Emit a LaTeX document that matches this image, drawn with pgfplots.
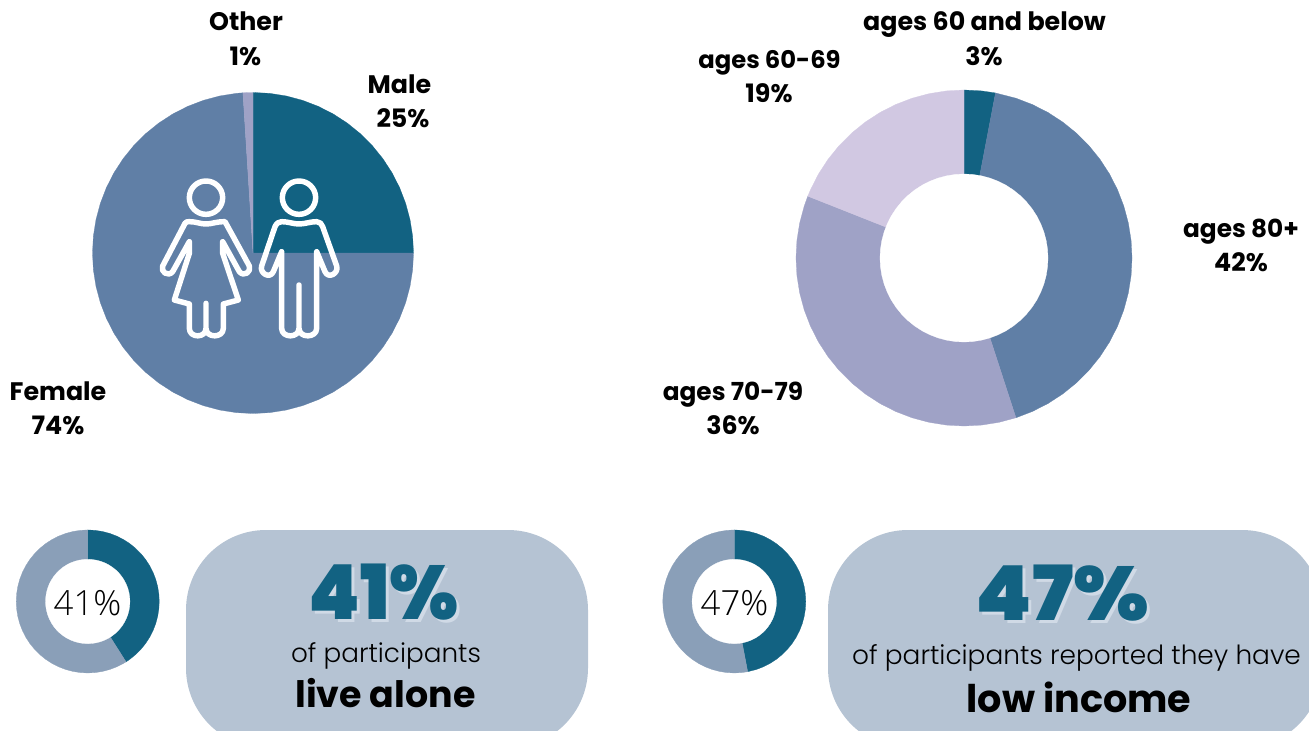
\documentclass[border=0pt]{standalone}
\usepackage{fontspec}
\usepackage{pgfplots}
\pgfplotsset{compat=1.18}
\setmainfont{Poppins}[UprightFont=*-Regular,BoldFont=*-Bold]
\newfontfamily\plight{Poppins}[UprightFont=*-Light]
\newfontfamily\pblack{Poppins}[UprightFont=*-Black]
\newfontfamily\oslight{Open Sans}[UprightFont=*-Light]
\definecolor{cdark}{HTML}{126282}
\definecolor{cmid}{HTML}{607FA6}
\definecolor{clav}{HTML}{9FA2C6}
\definecolor{clite}{HTML}{D1C8E2}
\definecolor{cgrey}{HTML}{8A9FB8}
\definecolor{cbox}{HTML}{B5C3D3}
\definecolor{cshadow}{HTML}{D0DAE6}
\pgfplotsset{pieax/.style={hide axis,scale only axis,anchor=center,clip=false,
  xmin=-1,xmax=1,ymin=-1,ymax=1,width=#1,height=#1,
  every axis plot/.append style={data cs=polar,mark=none,line width=0.2pt}}}
\newcommand{\T}[4]{\node[inner sep=0pt,anchor=base,align=center] at (#1*0.75pt,-#2*0.75pt) {\fontsize{#3}{#3}\selectfont #4};}
\begin{document}
\begin{tikzpicture}
\path[use as bounding box] (0,0) rectangle (981.75pt,-548.25pt);
\clip (0,0) rectangle (981.75pt,-548.25pt);
\fill[cbox,rounded corners=60pt] (139.5pt,-397.5pt) rectangle (441pt,-561pt);
\fill[cbox,rounded corners=60pt] (621pt,-397.5pt) rectangle (991.5pt,-561pt);

% gender pie: Male 25, Female 74, Other 1
\begin{axis}[pieax=240.75pt,at={(189.75pt,-189.75pt)}]
\addplot[fill=cdark,draw=cdark] coordinates {(0,0)(90,1)(84,1)(78,1)(72,1)(66,1)(60,1)(54,1)(48,1)(42,1)(36,1)(30,1)(24,1)(18,1)(12,1)(6,1)(0,1)} --cycle;
\addplot[fill=cmid,draw=cmid] coordinates {(0,0)(0,1)(-6,1)(-12,1)(-18,1)(-24,1)(-30,1)(-36,1)(-42,1)(-48,1)(-54,1)(-60,1)(-66,1)(-72,1)(-78,1)(-84,1)(-90,1)(-96,1)(-102,1)(-108,1)(-114,1)(-120,1)(-126,1)(-132,1)(-138,1)(-144,1)(-150,1)(-156,1)(-162,1)(-168,1)(-174,1)(-180,1)(-186,1)(-192,1)(-198,1)(-204,1)(-210,1)(-216,1)(-222,1)(-228,1)(-234,1)(-240,1)(-246,1)(-252,1)(-258,1)(-264,1)(-266.4,1)} --cycle;
\addplot[fill=clav,draw=clav] coordinates {(0,0)(-266.4,1)(-268,1)(-270,1)} --cycle;
\end{axis}

% age donut: 3, 42, 36, 19
\begin{axis}[pieax=252pt,at={(723pt,-193.5pt)}]
\addplot[fill=cdark,draw=cdark] coordinates {(0,0)(90,1)(84,1)(79.2,1)} --cycle;
\addplot[fill=cmid,draw=cmid] coordinates {(0,0)(79.2,1)(72,1)(66,1)(60,1)(54,1)(48,1)(42,1)(36,1)(30,1)(24,1)(18,1)(12,1)(6,1)(0,1)(-6,1)(-12,1)(-18,1)(-24,1)(-30,1)(-36,1)(-42,1)(-48,1)(-54,1)(-60,1)(-66,1)(-72,1)} --cycle;
\addplot[fill=clav,draw=clav] coordinates {(0,0)(-72,1)(-78,1)(-84,1)(-90,1)(-96,1)(-102,1)(-108,1)(-114,1)(-120,1)(-126,1)(-132,1)(-138,1)(-144,1)(-150,1)(-156,1)(-162,1)(-168,1)(-174,1)(-180,1)(-186,1)(-192,1)(-198,1)(-201.6,1)} --cycle;
\addplot[fill=clite,draw=clite] coordinates {(0,0)(-201.6,1)(-204,1)(-210,1)(-216,1)(-222,1)(-228,1)(-234,1)(-240,1)(-246,1)(-252,1)(-258,1)(-264,1)(-270,1)} --cycle;
\addplot[fill=white,draw=white] coordinates {(0,0.5)(6,0.5)(12,0.5)(18,0.5)(24,0.5)(30,0.5)(36,0.5)(42,0.5)(48,0.5)(54,0.5)(60,0.5)(66,0.5)(72,0.5)(78,0.5)(84,0.5)(90,0.5)(96,0.5)(102,0.5)(108,0.5)(114,0.5)(120,0.5)(126,0.5)(132,0.5)(138,0.5)(144,0.5)(150,0.5)(156,0.5)(162,0.5)(168,0.5)(174,0.5)(180,0.5)(186,0.5)(192,0.5)(198,0.5)(204,0.5)(210,0.5)(216,0.5)(222,0.5)(228,0.5)(234,0.5)(240,0.5)(246,0.5)(252,0.5)(258,0.5)(264,0.5)(270,0.5)(276,0.5)(282,0.5)(288,0.5)(294,0.5)(300,0.5)(306,0.5)(312,0.5)(318,0.5)(324,0.5)(330,0.5)(336,0.5)(342,0.5)(348,0.5)(354,0.5)} --cycle;
\end{axis}

% live alone: 41
\begin{axis}[pieax=107.25pt,at={(65.8pt,-451.1pt)}]
\addplot[fill=cdark,draw=cdark] coordinates {(0,0)(90,1)(84,1)(78,1)(72,1)(66,1)(60,1)(54,1)(48,1)(42,1)(36,1)(30,1)(24,1)(18,1)(12,1)(6,1)(0,1)(-6,1)(-12,1)(-18,1)(-24,1)(-30,1)(-36,1)(-42,1)(-48,1)(-54,1)(-57.6,1)} --cycle;
\addplot[fill=cgrey,draw=cgrey] coordinates {(0,0)(-57.6,1)(-60,1)(-66,1)(-72,1)(-78,1)(-84,1)(-90,1)(-96,1)(-102,1)(-108,1)(-114,1)(-120,1)(-126,1)(-132,1)(-138,1)(-144,1)(-150,1)(-156,1)(-162,1)(-168,1)(-174,1)(-180,1)(-186,1)(-192,1)(-198,1)(-204,1)(-210,1)(-216,1)(-222,1)(-228,1)(-234,1)(-240,1)(-246,1)(-252,1)(-258,1)(-264,1)(-270,1)} --cycle;
\addplot[fill=white,draw=white] coordinates {(0,0.59)(6,0.59)(12,0.59)(18,0.59)(24,0.59)(30,0.59)(36,0.59)(42,0.59)(48,0.59)(54,0.59)(60,0.59)(66,0.59)(72,0.59)(78,0.59)(84,0.59)(90,0.59)(96,0.59)(102,0.59)(108,0.59)(114,0.59)(120,0.59)(126,0.59)(132,0.59)(138,0.59)(144,0.59)(150,0.59)(156,0.59)(162,0.59)(168,0.59)(174,0.59)(180,0.59)(186,0.59)(192,0.59)(198,0.59)(204,0.59)(210,0.59)(216,0.59)(222,0.59)(228,0.59)(234,0.59)(240,0.59)(246,0.59)(252,0.59)(258,0.59)(264,0.59)(270,0.59)(276,0.59)(282,0.59)(288,0.59)(294,0.59)(300,0.59)(306,0.59)(312,0.59)(318,0.59)(324,0.59)(330,0.59)(336,0.59)(342,0.59)(348,0.59)(354,0.59)} --cycle;
\end{axis}

% low income: 47
\begin{axis}[pieax=107.25pt,at={(550.7pt,-451.1pt)}]
\addplot[fill=cdark,draw=cdark] coordinates {(0,0)(90,1)(84,1)(78,1)(72,1)(66,1)(60,1)(54,1)(48,1)(42,1)(36,1)(30,1)(24,1)(18,1)(12,1)(6,1)(0,1)(-6,1)(-12,1)(-18,1)(-24,1)(-30,1)(-36,1)(-42,1)(-48,1)(-54,1)(-60,1)(-66,1)(-72,1)(-79.2,1)} --cycle;
\addplot[fill=cgrey,draw=cgrey] coordinates {(0,0)(-79.2,1)(-84,1)(-90,1)(-96,1)(-102,1)(-108,1)(-114,1)(-120,1)(-126,1)(-132,1)(-138,1)(-144,1)(-150,1)(-156,1)(-162,1)(-168,1)(-174,1)(-180,1)(-186,1)(-192,1)(-198,1)(-204,1)(-210,1)(-216,1)(-222,1)(-228,1)(-234,1)(-240,1)(-246,1)(-252,1)(-258,1)(-264,1)(-270,1)} --cycle;
\addplot[fill=white,draw=white] coordinates {(0,0.59)(6,0.59)(12,0.59)(18,0.59)(24,0.59)(30,0.59)(36,0.59)(42,0.59)(48,0.59)(54,0.59)(60,0.59)(66,0.59)(72,0.59)(78,0.59)(84,0.59)(90,0.59)(96,0.59)(102,0.59)(108,0.59)(114,0.59)(120,0.59)(126,0.59)(132,0.59)(138,0.59)(144,0.59)(150,0.59)(156,0.59)(162,0.59)(168,0.59)(174,0.59)(180,0.59)(186,0.59)(192,0.59)(198,0.59)(204,0.59)(210,0.59)(216,0.59)(222,0.59)(228,0.59)(234,0.59)(240,0.59)(246,0.59)(252,0.59)(258,0.59)(264,0.59)(270,0.59)(276,0.59)(282,0.59)(288,0.59)(294,0.59)(300,0.59)(306,0.59)(312,0.59)(318,0.59)(324,0.59)(330,0.59)(336,0.59)(342,0.59)(348,0.59)(354,0.59)} --cycle;
\end{axis}

% icons, in 3x crop coordinates of the region starting at (140,160)
\begin{scope}[shift={(105pt,-120pt)},x=0.25pt,y=-0.25pt,draw=white,line width=4.1pt,line join=round,line cap=round]
\draw (198,113) circle[radius=50pt*0.25];
\draw (148,185) .. controls (170,185) and (180,192) .. (198,192) .. controls (216,192) and (226,185) .. (255,185)
  -- (328,318) .. controls (335,335) and (312,352) .. (298,335) -- (248,245) -- (248,280) -- (295,420) -- (250,432) -- (250,505)
  .. controls (250,535) and (198,535) .. (198,505) -- (198,430) (198,505) .. controls (198,535) and (148,535) .. (148,505)
  -- (148,432) -- (103,420) -- (148,280) -- (148,245) -- (98,335) .. controls (85,352) and (60,335) .. (68,318) -- (135,190) .. controls (138,185) and (142,185) .. (148,185);
\draw (477,113) circle[radius=50pt*0.25];
\draw (425,185) .. controls (445,185) and (460,192) .. (477,192) .. controls (495,192) and (510,185) .. (530,185)
  .. controls (540,185) and (545,192) .. (548,200) -- (590,318) .. controls (597,340) and (565,358) .. (555,335) -- (530,275) -- (530,505)
  .. controls (530,535) and (477,535) .. (477,505) -- (477,375) (477,505) .. controls (477,535) and (425,535) .. (425,505)
  -- (425,275) -- (400,335) .. controls (390,358) and (358,340) .. (365,318) -- (405,200) .. controls (410,190) and (415,185) .. (425,185);
\end{scope}

% labels
\bfseries
\T{246}{31}{19pt}{Other} \T{245.5}{66}{19pt}{1\%}
\T{399.5}{94}{19pt}{Male} \T{403}{128}{19pt}{25\%}
\T{58}{400}{19pt}{Female} \T{58}{434}{19pt}{74\%}
\T{984.5}{31}{19pt}{ages 60 and below} \T{984}{66}{19pt}{3\%}
\T{769.5}{69}{18.2pt}{ages 60-69} \T{769}{103}{19pt}{19\%}
\T{1241}{237}{18.6pt}{ages 80+} \T{1241}{271}{19pt}{42\%}
\T{733}{400}{18.6pt}{ages 70-79} \T{733}{434}{19pt}{36\%}
\normalfont
\T{87.5}{615}{26pt}{\oslight\color{black}41\%}
\T{734.5}{615}{26pt}{\oslight\color{black}47\%}
\T{386.5}{622.5}{57pt}{\pblack\color{cshadow}\scalebox{0.97}[1]{41\%}}
\T{383.5}{619.5}{57pt}{\pblack\color{cdark}\scalebox{0.97}[1]{41\%}}
\T{1065.5}{623.5}{57pt}{\pblack\color{cshadow}\scalebox{1.06}[1]{47\%}}
\T{1062.5}{620.5}{57pt}{\pblack\color{cdark}\scalebox{1.06}[1]{47\%}}
\T{386}{662}{19.7pt}{\plight of participants}
\T{1076.5}{664.5}{19.8pt}{\plight of participants reported they have}
\T{385.5}{707}{27.3pt}{\bfseries live alone}
\T{1079}{712}{28.6pt}{\bfseries low income}
\end{tikzpicture}
\end{document}
